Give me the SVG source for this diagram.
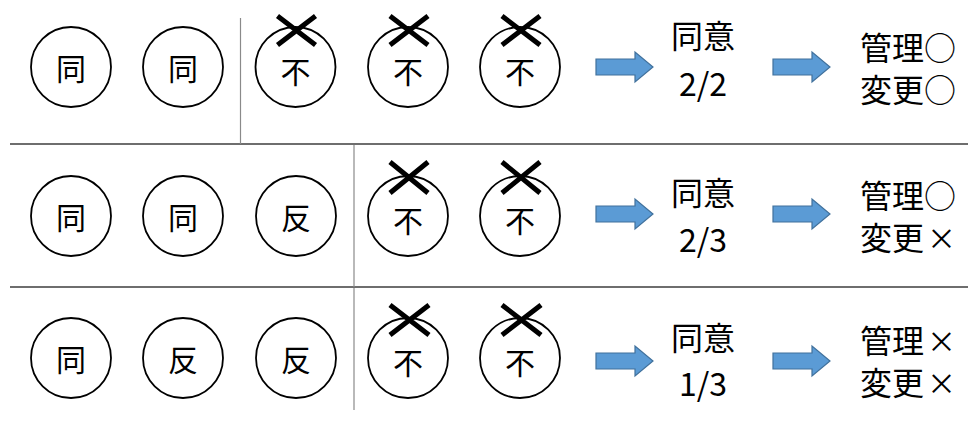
<svg xmlns="http://www.w3.org/2000/svg" width="968" height="421" viewBox="0 0 968 421">
<defs>
<style>
.c{fill:#fff;stroke:#000;stroke-width:1.8}
.t{font-family:"Noto Sans CJK JP","Noto Sans CJK SC",sans-serif;font-size:30px;fill:#000;text-anchor:middle}
.x{stroke:#000;stroke-width:5;stroke-linecap:butt}
.big{font-family:"Noto Sans CJK JP","Noto Sans CJK SC",sans-serif;font-size:32px;fill:#000}
.mid{text-anchor:middle}
.m{font-size:29px}
.hl{stroke:#6e6e6e;stroke-width:2.2}
.vl{stroke:#8a8a8a;stroke-width:1.2}
.ar{fill:#5b9bd5;stroke:#41719c;stroke-width:1.2}
</style>
<path id="arr" d="M0,-8 H39 V-15 L57,0 L39,15 V8 H0 Z"/>
</defs>
<rect width="968" height="421" fill="#fff"/>
<g id="grid">
<line class="hl" x1="10" y1="144" x2="968" y2="144"/>
<line class="hl" x1="10" y1="287" x2="968" y2="287"/>
<line class="vl" x1="240.5" y1="18" x2="240.5" y2="144"/>
<line class="vl" x1="354" y1="145" x2="354" y2="287"/>
<line class="vl" x1="354" y1="288" x2="354" y2="410"/>
</g>
<!-- Row 1 -->
<g id="r1n1"><circle class="c" cx="71" cy="67" r="40"/><text class="t" x="71" y="80">同</text></g>
<g id="r1n2"><circle class="c" cx="183" cy="67" r="40"/><text class="t" x="183" y="80">同</text></g>
<g id="r1n3"><circle class="c" cx="295.5" cy="67" r="40"/><text class="t" x="295.5" y="83">不</text><path class="x" d="M277.5,16 L315.5,45 M315.5,16 L277.5,45"/></g>
<g id="r1n4"><circle class="c" cx="408" cy="67" r="40"/><text class="t" x="408" y="83">不</text><path class="x" d="M390,16 L428,45 M428,16 L390,45"/></g>
<g id="r1n5"><circle class="c" cx="520" cy="67" r="40"/><text class="t" x="520" y="83">不</text><path class="x" d="M502,16 L540,45 M540,16 L502,45"/></g>
<g id="r1res"><text class="big mid" x="703" y="48">同意</text><text class="big mid" x="703" y="96">2/2</text></g>
<g id="r1out"><text class="big" x="860" y="60">管理○</text><text class="big" x="860" y="102">変更○</text></g>
<!-- Row 2 -->
<g id="r2n1"><circle class="c" cx="71" cy="216" r="40"/><text class="t" x="71" y="229">同</text></g>
<g id="r2n2"><circle class="c" cx="183" cy="216" r="40"/><text class="t" x="183" y="229">同</text></g>
<g id="r2n3"><circle class="c" cx="296" cy="216" r="40"/><text class="t" x="296" y="229">反</text></g>
<g id="r2n4"><circle class="c" cx="408" cy="216" r="40"/><text class="t" x="408" y="232">不</text><path class="x" d="M390,162 L428,193 M428,162 L390,193"/></g>
<g id="r2n5"><circle class="c" cx="520" cy="216" r="40"/><text class="t" x="520" y="232">不</text><path class="x" d="M502,162 L540,193 M540,162 L502,193"/></g>
<g id="r2res"><text class="big mid" x="703" y="205">同意</text><text class="big mid" x="703" y="252">2/3</text></g>
<g id="r2out"><text class="big" x="860" y="208">管理○</text><text class="big" x="860" y="250">変更<tspan class="m" dx="3">×</tspan></text></g>
<!-- Row 3 -->
<g id="r3n1"><circle class="c" cx="71" cy="358" r="40"/><text class="t" x="71" y="371">同</text></g>
<g id="r3n2"><circle class="c" cx="183" cy="358" r="40"/><text class="t" x="183" y="371">反</text></g>
<g id="r3n3"><circle class="c" cx="296" cy="358" r="40"/><text class="t" x="296" y="371">反</text></g>
<g id="r3n4"><circle class="c" cx="408" cy="358" r="40"/><text class="t" x="408" y="374">不</text><path class="x" d="M390,305 L429,335 M429,305 L390,335"/></g>
<g id="r3n5"><circle class="c" cx="520" cy="358" r="40"/><text class="t" x="520" y="374">不</text><path class="x" d="M502,305 L541,335 M541,305 L502,335"/></g>
<g id="r3res"><text class="big mid" x="703" y="350">同意</text><text class="big mid" x="703" y="396">1/3</text></g>
<g id="r3out"><text class="big" x="860" y="353">管理<tspan class="m" dx="3">×</tspan></text><text class="big" x="860" y="395">変更<tspan class="m" dx="3">×</tspan></text></g>
<g id="connectors">
<use href="#arr" class="ar" x="596" y="67"/>
<use href="#arr" class="ar" x="773" y="67"/>
<use href="#arr" class="ar" x="596" y="214"/>
<use href="#arr" class="ar" x="773" y="214"/>
<use href="#arr" class="ar" x="596" y="361"/>
<use href="#arr" class="ar" x="773" y="361"/>
</g>
</svg>
